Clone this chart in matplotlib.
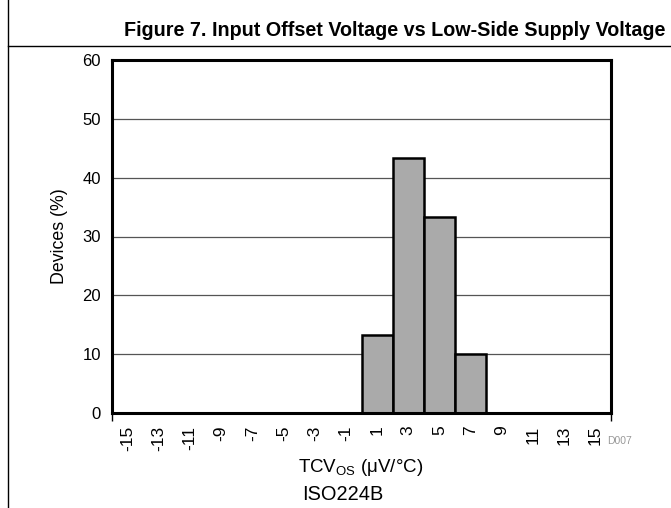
import numpy as np
import matplotlib
matplotlib.use('Agg')
import matplotlib.pyplot as plt
from matplotlib.lines import Line2D

# TCVos histogram bins (uV/C) and share of devices per bin
bin_labels = ['-15', '-13', '-11', '-9', '-7', '-5', '-3', '-1',
              '1', '3', '5', '7', '9', '11', '13', '15']
devices_pct = [0, 0, 0, 0, 0, 0, 0, 0, 13.3, 43.4, 33.3, 10.0, 0, 0, 0, 0]
y_ticks = [0, 10, 20, 30, 40, 50, 60]

plt.rcParams['font.family'] = ['Liberation Sans', 'DejaVu Sans']

fig = plt.figure(figsize=(6.71, 5.08), dpi=100)
ax = fig.add_axes([112 / 671, 1 - 413 / 508, 499 / 671, 353 / 508])

x = np.arange(len(bin_labels))
ax.bar(x, devices_pct, width=1.0, color='#aaaaaa', edgecolor='black',
       linewidth=1.8, zorder=3)

ax.set_xlim(-0.5, len(bin_labels) - 0.5)
ax.set_ylim(0, 60)
ax.set_yticks(y_ticks)
ax.set_xticks(x)
ax.set_xticklabels(bin_labels, rotation=90, fontsize=12.5)
ax.tick_params(axis='x', length=0, pad=9)
ax.tick_params(axis='y', length=0, pad=8, labelsize=12)
ax.set_xticks([-0.5, len(bin_labels) - 0.5], minor=True)
ax.tick_params(axis='x', which='minor', length=6, width=1)
ax.grid(axis='y', color='#555555', linewidth=0.9, zorder=0)
for s in ax.spines.values():
    s.set_linewidth(2.2)
    s.set_zorder(4)

fig.text(60 / 671, 1 - 236 / 508, 'Devices (%)', fontsize=12.8, rotation=90,
         ha='center', va='center')
fig.text(361 / 671, 1 - 468 / 508,
         r'TCV$_{\mathregular{OS}}$ ($\mathregular{\mu}$V/$\mathregular{\degree}$C)',
         fontsize=13.5, ha='center', va='center')
fig.text(343 / 671, 1 - 495 / 508, 'ISO224B', fontsize=14.4, ha='center', va='center')
fig.text(620 / 671, 1 - 441 / 508, 'D007', fontsize=7.5, color='#999999',
         ha='center', va='center')

# header title and frame lines
fig.text(665 / 671, 1 - 31 / 508, 'Figure 7. Input Offset Voltage vs Low-Side Supply Voltage',
         fontsize=14.2, fontweight='bold', ha='right', va='center')
fig.add_artist(Line2D([8 / 671, 8 / 671], [0, 1], color='black', linewidth=1,
                      transform=fig.transFigure))
fig.add_artist(Line2D([8 / 671, 1], [1 - 46 / 508, 1 - 46 / 508], color='black',
                      linewidth=1, transform=fig.transFigure))

fig.savefig('out.png', dpi=100)
